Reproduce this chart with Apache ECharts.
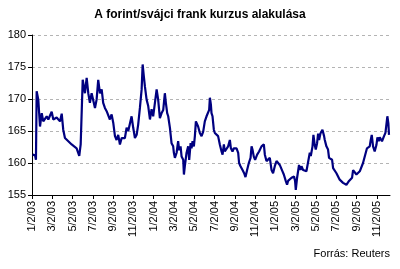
<!DOCTYPE html>
<html><head><meta charset="utf-8">
<script src="https://cdn.jsdelivr.net/npm/echarts@6/dist/echarts.min.js"></script>
<style>html,body{margin:0;padding:0;background:#fff}#c{width:400px;height:269px}</style>
</head><body><div id="c"></div>
<script>
// x: months elapsed since 2 Jan 2003 ; y: HUF per CHF
const monthsSinceStart = [0.07,0.30,0.39,0.46,0.62,0.79,0.96,1.11,1.45,1.61,1.94,2.10,2.43,2.76,2.93,3.08,3.25,3.58,3.91,4.07,4.40,4.66,4.80,5.00,5.22,5.39,5.55,5.71,5.88,6.21,6.37,6.53,6.70,6.87,7.02,7.19,7.36,7.68,7.85,8.01,8.18,8.34,8.50,8.67,8.84,9.00,9.16,9.33,9.49,9.66,9.82,9.98,10.15,10.32,10.47,10.64,10.81,10.91,11.03,11.13,11.30,11.46,11.63,11.79,11.95,12.12,12.29,12.44,12.61,12.78,12.94,13.10,13.20,13.33,13.43,13.60,13.69,13.76,13.92,13.99,14.09,14.26,14.41,14.51,14.65,14.75,14.91,14.98,15.07,15.24,15.40,15.50,15.64,15.73,15.83,15.96,16.06,16.16,16.29,16.38,16.55,16.72,16.88,17.04,17.21,17.27,17.37,17.47,17.54,17.64,17.70,17.80,17.93,18.03,18.20,18.35,18.52,18.69,18.79,18.92,19.01,19.18,19.34,19.51,19.61,19.77,19.90,20.00,20.17,20.33,20.42,20.56,20.76,20.92,21.05,21.21,21.38,21.55,21.65,21.74,21.87,22.00,22.20,22.39,22.63,22.86,22.96,23.12,23.28,23.45,23.62,23.77,23.94,24.11,24.17,24.27,24.43,24.60,24.70,24.83,24.93,25.02,25.15,25.25,25.42,25.59,25.74,25.84,25.94,26.01,26.14,26.33,26.47,26.57,26.73,26.90,27.06,27.22,27.39,27.49,27.66,27.75,27.88,27.98,28.11,28.21,28.31,28.44,28.54,28.64,28.70,28.80,28.87,29.03,29.19,29.29,29.43,29.59,29.69,29.85,30.02,30.18,30.34,30.51,30.67,30.84,31.00,31.10,31.26,31.40,31.56,31.66,31.82,31.99,32.15,32.32,32.48,32.64,32.81,32.91,33.03,33.17,33.30,33.40,33.50,33.63,33.79,33.96,34.06,34.19,34.29,34.38,34.51,34.61,34.71,34.85,34.95,35.04,35.14,35.20];
const rate = [161.3,161.2,160.5,171.2,169.9,165.7,167.8,166.5,167.3,166.8,168.0,166.8,167.1,166.5,167.7,165.2,163.9,163.4,162.9,162.6,162.3,161.1,162.9,173.0,170.9,173.3,170.9,169.4,170.9,168.6,169.9,173.0,170.9,171.5,169.4,168.6,168.1,166.8,167.6,166.3,164.2,163.6,164.4,162.9,163.9,164.2,163.9,165.5,165.0,165.2,167.3,165.5,163.9,164.4,166.0,168.6,171.5,175.4,173.5,172.0,169.9,168.9,166.8,168.4,167.3,169.4,171.5,169.9,167.0,167.8,168.3,170.9,169.4,167.8,167.3,165.5,165.2,163.1,162.6,161.6,160.8,161.6,163.4,162.0,162.6,161.0,160.5,158.2,159.5,161.6,162.6,160.5,163.1,162.3,163.4,162.6,164.2,166.5,166.8,165.7,164.7,164.2,164.9,166.5,167.3,167.6,167.1,168.3,170.2,169.1,167.8,167.3,165.2,164.7,164.9,164.2,162.9,161.8,161.3,162.9,161.8,162.1,162.6,163.6,162.3,161.8,162.3,162.6,162.3,161.6,160.0,159.5,158.9,158.4,157.8,158.9,160.0,160.8,162.6,162.1,161.0,160.5,161.3,161.8,162.6,162.9,161.3,160.3,160.0,160.8,158.9,158.4,159.5,160.3,160.5,160.0,159.7,159.7,158.7,158.2,157.9,157.2,156.6,157.2,157.4,157.7,157.7,157.9,157.2,155.8,157.7,159.7,158.9,159.5,158.9,158.7,158.7,158.9,161.6,161.1,162.6,164.4,162.8,162.1,163.1,164.6,163.6,164.6,164.9,165.2,165.5,164.2,163.6,162.6,162.1,160.8,160.5,160.5,159.2,158.9,158.4,157.9,157.4,157.2,156.9,156.9,156.6,156.4,157.2,157.4,157.7,158.9,158.7,158.2,158.4,158.7,158.7,160.0,160.3,161.6,162.3,162.6,162.6,163.6,164.4,162.6,161.8,162.8,164.0,163.4,164.0,164.2,163.4,163.6,164.2,164.7,164.4,167.3,166.2,164.4];
const tickLabels = ["1/2/03","3/2/03","5/2/03","7/2/03","9/2/03","11/2/03","1/2/04","3/2/04","5/2/04","7/2/04","9/2/04","11/2/04","1/2/05","3/2/05","5/2/05","7/2/05","9/2/05","11/2/05"];
const tickMonths = tickLabels.map((_, i) => i * 2);

const chart = echarts.init(document.getElementById('c'), null, {renderer: 'canvas'});
const font = 'Liberation Sans, Arial, sans-serif';
chart.setOption({
  animation: false,
  backgroundColor: '#ffffff',
  title: {
    text: 'A forint/svájci frank kurzus alakulása',
    left: 'center', top: 4,
    textStyle: {fontFamily: font, fontSize: 12, fontWeight: 'bold', color: '#000'}
  },
  graphic: [{
    type: 'text', right: 10, top: 248,
    style: {text: 'Forrás: Reuters', fontFamily: font, fontSize: 11, fill: '#000'}
  }],
  grid: {left: 32, right: 10, top: 35, bottom: 74, containLabel: false},
  xAxis: {
    type: 'value', min: 0, max: 35.3,
    axisLine: {show: true, lineStyle: {color: '#000', width: 1}},
    axisTick: {show: true, length: 4, customValues: tickMonths, lineStyle: {color: '#000'}},
    axisLabel: {
      customValues: tickMonths, rotate: 90, margin: 6,
      fontFamily: font, fontSize: 11, color: '#000',
      formatter: v => tickLabels[Math.round(v / 2)] || ''
    },
    splitLine: {show: false}
  },
  yAxis: {
    type: 'value', min: 155, max: 180, interval: 5,
    axisLine: {show: true, lineStyle: {color: '#000', width: 1}},
    axisTick: {show: true, length: 4, lineStyle: {color: '#000'}},
    axisLabel: {fontFamily: font, fontSize: 11, color: '#000', margin: 6},
    splitLine: {show: true, lineStyle: {type: [3, 3], color: '#b4b4b4', width: 1}}
  },
  series: [{
    type: 'line',
    data: monthsSinceStart.map((m, i) => [m, rate[i]]),
    showSymbol: false,
    lineStyle: {color: '#000080', width: 2.2},
    itemStyle: {color: '#000080'}
  }]
});
</script></body></html>
